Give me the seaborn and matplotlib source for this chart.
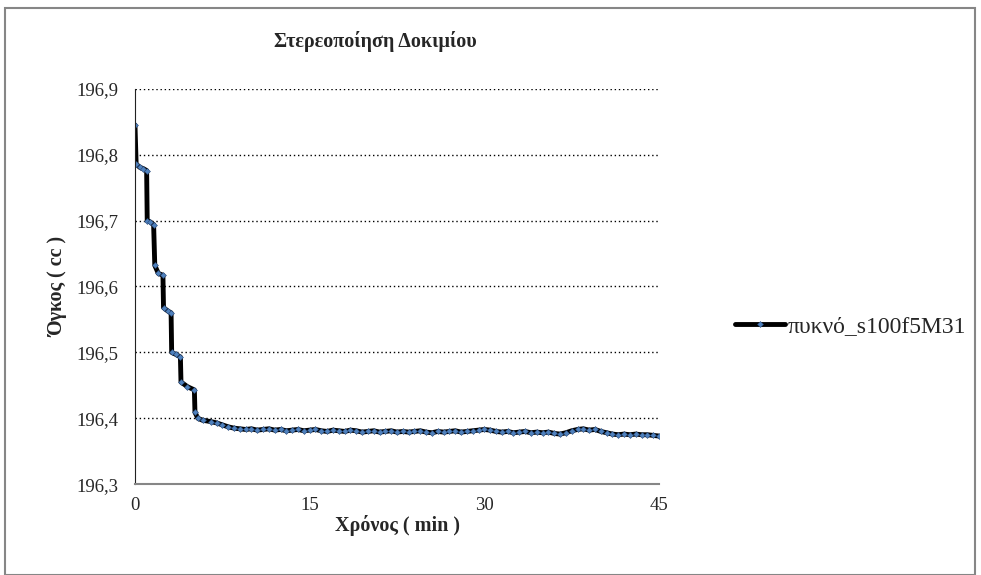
import numpy as np
import pandas as pd
import seaborn as sns
import matplotlib.pyplot as plt
from matplotlib.patches import Rectangle
from matplotlib.ticker import FuncFormatter

sns.set_style("white")
plt.rcParams['font.family'] = ['Liberation Serif', 'DejaVu Serif']

# time (min) and volume (cc)
# early part - stepwise drops
t_early = [0.0, 0.1, 0.4, 0.7, 1.0, 1.05, 1.3, 1.6, 1.7, 2.0, 2.4, 2.45, 2.8, 3.1,
           3.15, 3.5, 3.9, 3.95, 4.5, 5.1, 5.15, 5.4, 5.8, 6.5, 7.0, 7.5, 8.0, 8.5]
v_early = [196.845, 196.786, 196.781, 196.779, 196.776, 196.700, 196.698, 196.694,
           196.632, 196.620, 196.617, 196.568, 196.563, 196.560, 196.500, 196.497,
           196.493, 196.455, 196.448, 196.443, 196.409, 196.400, 196.397, 196.395,
           196.393, 196.390, 196.387, 196.385]
# plateau, every half minute
t_tail = [9.0, 9.5, 10.0, 10.5, 11.0, 11.5, 12.0, 12.5, 13.0, 13.5, 14.0, 14.5,
          15.0, 15.5, 16.0, 16.5, 17.0, 17.5, 18.0, 18.5, 19.0, 19.5, 20.0, 20.5,
          21.0, 21.5, 22.0, 22.5, 23.0, 23.5, 24.0, 24.5, 25.0, 25.5, 26.0, 26.5,
          27.0, 27.5, 28.0, 28.5, 29.0, 29.5, 30.0, 30.5, 31.0, 31.5, 32.0, 32.5,
          33.0, 33.5, 34.0, 34.5, 35.0, 35.5, 36.0, 36.5, 37.0, 37.5, 38.0, 38.5,
          39.0, 39.5, 40.0, 40.5, 41.0, 41.5, 42.0, 42.5, 43.0, 43.5, 44.0, 44.5, 45.0]
v_tail = [196.384, 196.383, 196.384, 196.382, 196.383, 196.384, 196.382, 196.383,
          196.381, 196.382, 196.383, 196.381, 196.382, 196.383, 196.381, 196.380,
          196.382, 196.381, 196.380, 196.382, 196.381, 196.379, 196.380, 196.381,
          196.379, 196.380, 196.381, 196.379, 196.380, 196.379, 196.380, 196.381,
          196.379, 196.378, 196.380, 196.379, 196.380, 196.381, 196.379, 196.380,
          196.381, 196.382, 196.383, 196.382, 196.380, 196.379, 196.380, 196.378,
          196.379, 196.380, 196.378, 196.379, 196.378, 196.379, 196.377, 196.376,
          196.378, 196.381, 196.383, 196.384, 196.382, 196.383, 196.380, 196.378,
          196.376, 196.375, 196.376, 196.375, 196.376, 196.375, 196.375, 196.374, 196.373]

series_name = "πυκνό_s100f5M31"
x_ticks = [0, 15, 30, 45]
y_ticks = [196.3, 196.4, 196.5, 196.6, 196.7, 196.8, 196.9]

df = pd.DataFrame({'t': t_early + t_tail, 'v': v_early + v_tail})

fig = plt.figure(figsize=(9.81, 5.75), dpi=100)
ax = fig.add_axes([0.1376, 0.158, 0.5342, 0.6875])

sns.lineplot(data=df, x='t', y='v', ax=ax, color='black', lw=3.5,
             marker='D', markersize=3, markerfacecolor='#4f81bd',
             markeredgecolor='#2a4a7a', markeredgewidth=0.4,
             label=series_name, sort=False)

ax.set_xlim(0, 45)
ax.set_ylim(196.3, 196.9)
ax.set_xticks(x_ticks)
ax.set_yticks(y_ticks)
ax.yaxis.set_major_formatter(FuncFormatter(lambda v, p: ('%.1f' % v).replace('.', ',')))
ax.tick_params(axis='both', length=0, labelsize=13.5)
ax.tick_params(axis='y', pad=12)
ax.tick_params(axis='x', pad=9)
ax.grid(axis='y', color='black', linestyle=(0, (1, 2)), lw=1)
ax.set_axisbelow(True)
for s in ['top', 'right']:
    ax.spines[s].set_visible(False)
ax.spines['left'].set_color('#222222')
ax.spines['bottom'].set_color('#868686')
ax.spines['bottom'].set_linewidth(1.5)

ax.set_title('Στερεοποίηση Δοκιμίου', fontsize=14.5, fontweight='bold', pad=30, x=0.458)
ax.set_xlabel('Χρόνος ( min )', fontsize=14.5, fontweight='bold', labelpad=1)
ax.set_ylabel('Όγκος ( cc )', fontsize=14.5, fontweight='bold', labelpad=6)

leg = ax.legend(loc='center left', bbox_to_anchor=(1.105, 0.40), frameon=False,
                fontsize=17, handlelength=2.1, handletextpad=0.1)

# outer chart border
fig.patches.append(Rectangle((0.005, 0.0), 0.989, 0.986, transform=fig.transFigure,
                             fill=False, edgecolor='#868686', lw=1.5))

plt.savefig('out.png', dpi=100)
